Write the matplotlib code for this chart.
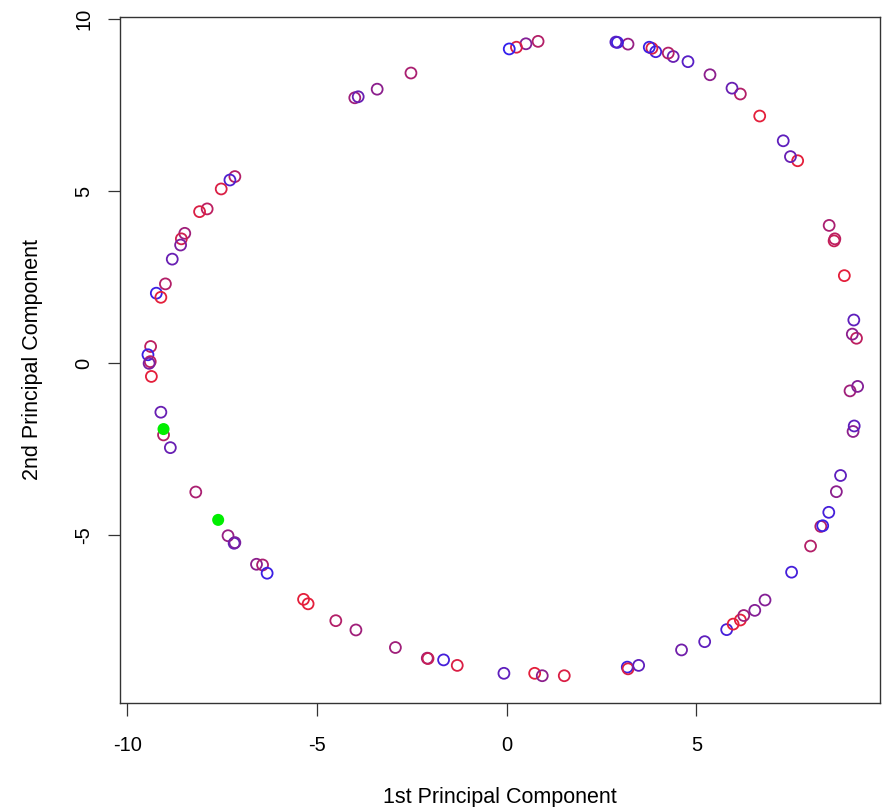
import numpy as np
import matplotlib
matplotlib.use("Agg")
import matplotlib.pyplot as plt
from matplotlib.colors import LinearSegmentedColormap

plt.rcParams['font.family'] = ['Liberation Sans', 'DejaVu Sans']
plt.rcParams['axes.unicode_minus'] = False

# principal component scores
pc1 = [-4.00, -3.91, -3.41, -2.52, -7.16, -7.29, -7.52, -7.89, -8.09, -8.48,
       -8.57, -8.59, -8.81, -8.99, -9.23, -9.11, -9.38, -9.45, -9.39, -9.42,
       -9.36, -9.11, -9.04, -8.86, -8.19, -7.34, -7.18, -7.16, -6.59, -6.43,
       -6.31, -5.35, -5.23, -4.50, -3.97, -2.93, -2.09, -2.07, -1.66, -1.30,
       -0.07, 0.74, 0.94, 1.52, 3.18, 3.20, 3.48, 4.61, 5.22, 5.80,
       5.97, 6.16, 6.25, 6.54, 6.81, 7.51, 8.01, 8.28, 8.33, 8.49,
       8.69, 8.80, 9.13, 9.16, 9.05, 9.25, 9.22, 9.11, 9.15, 8.90,
       8.63, 8.65, 8.50, 7.67, 7.48, 7.29, 6.67, 6.16, 5.94, 5.36,
       4.78, 4.39, 4.26, 3.93, 3.83, 3.76, 3.20, 2.92, 2.88, 0.83,
       0.51, 0.26, 0.07]
pc2 = [7.72, 7.75, 7.97, 8.44, 5.43, 5.33, 5.07, 4.49, 4.41, 3.78,
       3.62, 3.44, 3.03, 2.31, 2.04, 1.92, 0.49, 0.25, 0.05, 0.00,
       -0.38, -1.42, -2.08, -2.45, -3.74, -5.01, -5.23, -5.21, -5.84, -5.86,
       -6.10, -6.86, -6.99, -7.48, -7.75, -8.26, -8.57, -8.58, -8.62, -8.78,
       -9.01, -9.01, -9.08, -9.08, -8.83, -8.88, -8.78, -8.33, -8.09, -7.74,
       -7.58, -7.46, -7.33, -7.18, -6.88, -6.07, -5.31, -4.74, -4.72, -4.33,
       -3.73, -3.26, -1.98, -1.82, -0.80, -0.67, 0.73, 0.85, 1.26, 2.55,
       3.56, 3.62, 4.01, 5.89, 6.01, 6.47, 7.19, 7.83, 8.00, 8.39,
       8.77, 8.92, 9.02, 9.06, 9.16, 9.19, 9.28, 9.33, 9.34, 9.36,
       9.29, 9.19, 9.14]
# 0 = red end, 1 = blue end of the colour ramp
shade = [0.4, 0.7, 0.5, 0.35, 0.3, 0.85, 0.1, 0.25, 0.1, 0.4,
         0.15, 0.6, 0.7, 0.3, 0.95, 0.05, 0.25, 0.95, 0.25, 0.6,
         0.05, 0.7, 0.3, 0.7, 0.35, 0.45, 0.75, 0.6, 0.5, 0.35,
         0.95, 0.05, 0.05, 0.3, 0.4, 0.4, 0.4, 0.2, 0.9, 0.1,
         0.75, 0.05, 0.5, 0.1, 0.95, 0.1, 0.75, 0.65, 0.75, 0.9,
         0.05, 0.05, 0.4, 0.55, 0.55, 0.9, 0.3, 0.3, 0.95, 0.9,
         0.5, 0.75, 0.5, 0.75, 0.4, 0.55, 0.25, 0.5, 0.75, 0.05,
         0.2, 0.25, 0.35, 0.05, 0.7, 0.75, 0.05, 0.3, 0.7, 0.5,
         0.8, 0.7, 0.3, 0.9, 0.1, 0.95, 0.45, 0.95, 0.8, 0.3,
         0.55, 0.1, 1.0]

# highlighted observations
hi_pc1 = [-9.04, -7.60]
hi_pc2 = [-1.91, -4.55]

ramp = LinearSegmentedColormap.from_list(
    "rb", [(0.93, 0.12, 0.2), (0.55, 0.12, 0.55), (0.2, 0.12, 0.93)])
colors = ramp(np.array(shade))

fig = plt.figure(figsize=(8.88, 8.07), dpi=100)
ax = fig.add_axes([0.135, 0.129, 0.856, 0.850])

ax.scatter(pc1, pc2, s=62, facecolors='none', edgecolors=colors, linewidths=1.3)
ax.scatter(hi_pc1, hi_pc2, s=75, color='#00ee00', edgecolors='none', zorder=3)

ax.set_xlim(-10.19, 9.84)
ax.set_ylim(-9.87, 10.07)
ax.set_xticks([-10, -5, 0, 5])
ax.set_yticks([-5, 0, 5, 10])
ax.tick_params(axis='both', length=9, width=0.9, labelsize=14.5, color='#333333')
ax.tick_params(axis='x', pad=15)
ax.tick_params(axis='y', pad=10)
for lab in ax.get_yticklabels():
    lab.set_rotation(90)
    lab.set_va('center')
for sp in ax.spines.values():
    sp.set_color('#333333')
    sp.set_linewidth(1.0)

ax.set_xlabel('1st Principal Component', fontsize=15.5, labelpad=23)
ax.set_ylabel('2nd Principal Component', fontsize=15.5, labelpad=23)

fig.savefig('out.png', dpi=100)
